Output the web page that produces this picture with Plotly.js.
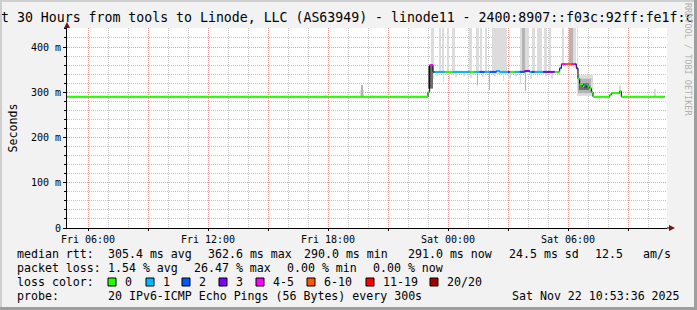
<!DOCTYPE html>
<html><head><meta charset="utf-8">
<script src="https://cdn.plot.ly/plotly-3.0.1.min.js"></script>
<style>
html,body{margin:0;padding:0;background:#f2f2f2;}
#wrap{position:relative;width:697px;height:310px;overflow:hidden;}
#chart{position:absolute;left:0;top:0;width:697px;height:310px;}
.b{position:absolute;pointer-events:none;}
</style></head><body>
<div id="wrap"><div id="chart"></div>
<div class="b" style="left:0;top:0;width:697px;height:2px;background:#cfcfcf"></div>
<div class="b" style="left:0;top:0;width:2px;height:310px;background:#cfcfcf"></div>
<div class="b" style="right:0;top:0;width:3px;height:310px;background:#9e9e9e"></div>
<div class="b" style="left:0;bottom:0;width:697px;height:3px;background:#9e9e9e"></div>
</div>
<script>
// ---- data ----
const medTime = ['2025-11-21 04:57','2025-11-21 23:00','2025-11-21 23:05','2025-11-21 23:15','2025-11-21 23:20','2025-11-21 23:50','2025-11-22 00:15','2025-11-22 01:05','2025-11-22 01:20','2025-11-22 01:35','2025-11-22 01:50','2025-11-22 02:05','2025-11-22 02:25','2025-11-22 02:35','2025-11-22 03:00','2025-11-22 03:05','2025-11-22 03:20','2025-11-22 03:35','2025-11-22 03:50','2025-11-22 04:05','2025-11-22 04:10','2025-11-22 04:20','2025-11-22 04:45','2025-11-22 05:20','2025-11-22 05:35','2025-11-22 05:40','2025-11-22 05:55','2025-11-22 06:10','2025-11-22 06:20','2025-11-22 06:25','2025-11-22 06:30','2025-11-22 06:35','2025-11-22 06:45','2025-11-22 06:50','2025-11-22 06:55','2025-11-22 07:00','2025-11-22 07:05','2025-11-22 07:10','2025-11-22 07:15','2025-11-22 08:05','2025-11-22 08:10','2025-11-22 08:35','2025-11-22 08:40','2025-11-22 10:50'];
const medRtt = [290,300,360,345,345,345,345,345,345,345,345,345,347,345,345,345,345,345,347,345,345,345,345,345,353,362,362,362,362,353,330,318,313,311,316,313,309,300,290,294,298,302,290,290];
const medLoss = [0,0,4,2,1,0,1,0,1,2,1,2,1,1,3,0,1,2,3,1,2,1,3,0,2,4,5,4,3,3,0,0,0,2,1,0,0,0,0,0,0,0,0,0];

const smokeFrom = ['2025-11-21 23:09','2025-11-21 23:33','2025-11-21 23:42','2025-11-21 23:57','2025-11-22 00:12','2025-11-22 01:03','2025-11-22 01:24','2025-11-22 01:36','2025-11-22 01:51','2025-11-22 02:12','2025-11-22 03:36','2025-11-22 03:42','2025-11-22 03:51','2025-11-22 04:12','2025-11-22 04:27','2025-11-22 04:48','2025-11-22 05:03','2025-11-22 05:42','2025-11-22 06:03','2025-11-22 06:15','2025-11-22 06:27',
 '2025-11-21 23:24','2025-11-21 23:45','2025-11-22 00:03','2025-11-22 00:21','2025-11-22 00:45','2025-11-22 01:06','2025-11-22 01:27','2025-11-22 01:42','2025-11-22 02:03','2025-11-22 02:18','2025-11-22 02:45','2025-11-22 03:00','2025-11-22 03:21','2025-11-22 03:36','2025-11-22 03:51','2025-11-22 04:06','2025-11-22 04:27','2025-11-22 04:51','2025-11-22 05:09',
 '2025-11-21 23:00','2025-11-22 06:27','2025-11-22 06:30','2025-11-22 06:33',
 '2025-11-21 19:36','2025-11-21 19:39','2025-11-21 20:12','2025-11-21 17:51','2025-11-22 08:33','2025-11-22 10:18'];
const smokeTo = ['2025-11-21 23:18','2025-11-21 23:39','2025-11-21 23:48','2025-11-22 00:03','2025-11-22 00:21','2025-11-22 01:12','2025-11-22 01:33','2025-11-22 01:42','2025-11-22 01:57','2025-11-22 02:57','2025-11-22 03:42','2025-11-22 03:51','2025-11-22 04:03','2025-11-22 04:21','2025-11-22 04:42','2025-11-22 04:57','2025-11-22 05:09','2025-11-22 05:48','2025-11-22 06:15','2025-11-22 06:24','2025-11-22 06:30',
 '2025-11-21 23:30','2025-11-21 23:48','2025-11-22 00:06','2025-11-22 00:27','2025-11-22 00:51','2025-11-22 01:12','2025-11-22 01:30','2025-11-22 01:48','2025-11-22 02:06','2025-11-22 02:24','2025-11-22 02:48','2025-11-22 03:09','2025-11-22 03:27','2025-11-22 03:39','2025-11-22 03:54','2025-11-22 04:12','2025-11-22 04:30','2025-11-22 04:57','2025-11-22 05:15',
 '2025-11-21 23:15','2025-11-22 07:15','2025-11-22 07:09','2025-11-22 07:03',
 '2025-11-21 19:48','2025-11-21 19:45','2025-11-21 20:15','2025-11-21 17:54','2025-11-22 08:39','2025-11-22 10:24'];
const smokeLo = [330,343,343,343,343,343,343,343,343,340,343,343,343,343,343,343,343,360,360,355,330,
 335,322,326,333,335,332,315,333,305,335,325,330,335,318,302,330,333,335,330,
 308,292,298,305,
 290,290,290,290,298,290];
const smokeHi = [500,500,500,500,500,500,500,500,500,500,500,500,500,500,500,500,500,500,500,500,500,
 346,346,346,346,346,346,346,346,346,346,346,346,346,346,346,346,346,346,346,
 358,338,330,320,
 305,316,294,295,315,307];
const smokeTone = [0,0,0,0,0,0,0,0,0,0,0,1,0,0,0,0,0,0,1,0,0,
 0,0,0,0,0,0,1,0,1,0,0,0,0,0,1,0,0,0,0,
 2,0,1,2,
 0,1,0,0,0,0];

const lossColors = ['#26ff00','#00b8ff','#0059ff','#7e00ff','#ff00fe','#ff5500','#ff0000','#a10000'];
const lossLabels = ['0','1','2','3','4-5','6-10','11-19','20/20'];
const smokeShades = ['#dcdcdc','#b4b4b4','#6e6e6e'];

const xTickVals = ['2025-11-21 06:00','2025-11-21 09:00','2025-11-21 12:00','2025-11-21 15:00','2025-11-21 18:00','2025-11-21 21:00','2025-11-22 00:00','2025-11-22 03:00','2025-11-22 06:00','2025-11-22 09:00'];
const xTickText = ['Fri 06:00','','Fri 12:00','','Fri 18:00','','Sat 00:00','','Sat 06:00',''];
const yTickVals = [0,100,200,300,400];
const yTickText = ['0','100 m','200 m','300 m','400 m'];

const titleText = 't 30 Hours from tools to Linode, LLC (AS63949) - linode11 - 2400:8907::f03c:92ff:fe1f:c';
const rttFields = ['median rtt:','305.4 ms avg','362.6 ms max','290.0 ms min','291.0 ms now','24.5 ms sd','12.5','am/s'];
const lossFields = ['packet loss:','1.54 % avg','26.47 % max','0.00 % min','0.00 % now'];
const probeFields = ['probe:','20 IPv6-ICMP Echo Pings (56 Bytes) every 300s'];
const stampText = 'Sat Nov 22 10:53:36 2025';
const watermark = 'RRDTOOL / TOBI OETIKER';

// ---- build ----
const toMs = s => Date.parse(s.replace(' ','T')+':00Z');
const PX = x => (x-67)/600;
const PY = y => (228-y)/200;
const MONO = 'DejaVu Sans Mono';

const traces = [];
for (let t=0;t<3;t++){
  const xs=[],ys=[],bs=[],ws=[];
  for(let i=0;i<smokeFrom.length;i++){
    if(smokeTone[i]!==t) continue;
    const a=toMs(smokeFrom[i]), b=toMs(smokeTo[i]);
    xs.push((a+b)/2); ws.push(b-a); bs.push(smokeLo[i]); ys.push(smokeHi[i]-smokeLo[i]);
  }
  traces.push({type:'bar',x:xs,y:ys,base:bs,width:ws,marker:{color:smokeShades[t],line:{width:0}},hoverinfo:'skip'});
}
traces.push({type:'scatter',mode:'lines',x:medTime,y:medRtt,line:{color:'#000',width:1,shape:'hv'},hoverinfo:'skip'});
for(let k=0;k<lossColors.length;k++){
  const xs=[],ys=[];
  for(let i=0;i<medTime.length-1;i++){
    if(medLoss[i]!==k) continue;
    xs.push(medTime[i],medTime[i+1],null); ys.push(medRtt[i],medRtt[i],null);
  }
  if(xs.length) traces.push({type:'scatter',mode:'lines',x:xs,y:ys,line:{color:lossColors[k],width:2},hoverinfo:'skip',connectgaps:false});
}

const ann = [];
const txt = (text,x,y,opt={}) => ann.push(Object.assign({text:text,x:PX(x),y:PY(y),xref:'paper',yref:'paper',showarrow:false,xanchor:'left',yanchor:'middle',borderpad:0,font:{family:MONO,size:11.6,color:'#000'}},opt));
txt(titleText,0,18,{font:{family:MONO,size:13.22,color:'#000'}});
txt(watermark,688,59,{xanchor:'center',textangle:90,font:{family:MONO,size:8.5,color:'#b0b0b0'}});
const rttX=[16,107,207,303,407,508,594,642];
rttFields.forEach((f,i)=>txt(f,rttX[i],254));
const lossX=[16,107,193,286,372];
lossFields.forEach((f,i)=>txt(f,lossX[i],268));
txt('loss color:',16,282);
const sqX=[108,146,182,219,256,307,366,430];
const shapes=[];
lossLabels.forEach((l,i)=>{
  txt(l,sqX[i]+16,282);
  shapes.push({type:'rect',xref:'paper',yref:'paper',x0:PX(sqX[i]),x1:PX(sqX[i]+8),y0:PY(286),y1:PY(278),fillcolor:lossColors[i],line:{color:'#000',width:1}});
});
const probeX=[16,107];
probeFields.forEach((f,i)=>txt(f,probeX[i],296));
txt(stampText,681,296,{xanchor:'right'});

const AR='#7a1010';
shapes.push({type:'line',xref:'paper',yref:'paper',x0:1,x1:PX(670),y0:0,y1:0,line:{color:'#000',width:1}});
shapes.push({type:'path',xref:'paper',yref:'paper',path:`M ${PX(669)},${PY(225)} L ${PX(675)},${PY(228)} L ${PX(669)},${PY(231)} Z`,fillcolor:AR,line:{color:AR,width:0}});
shapes.push({type:'path',xref:'paper',yref:'paper',path:`M ${PX(64)},${PY(28)} L ${PX(67)},${PY(22)} L ${PX(70)},${PY(28)} Z`,fillcolor:AR,line:{color:AR,width:0}});

const layout = {
  width:697,height:310,
  margin:{l:67,r:30,t:28,b:82,pad:0},
  paper_bgcolor:'#f2f2f2',plot_bgcolor:'#ffffff',
  showlegend:false,barmode:'overlay',
  font:{family:MONO,size:10,color:'#000'},
  xaxis:{type:'date',range:['2025-11-21 04:57','2025-11-22 10:57'],tickmode:'array',tickvals:xTickVals,ticktext:xTickText,
    showgrid:true,gridcolor:'#f09a9a',griddash:'1px,1px',gridwidth:1,showline:true,linecolor:'#000',linewidth:1,
    ticks:'outside',ticklen:2,tickcolor:'#000',zeroline:false,fixedrange:true,tickfont:{family:MONO,size:10},
    minor:{dtick:3600000,tick0:'2025-11-21 00:00',showgrid:true,gridcolor:'#c4c4c4',griddash:'1px,1px',gridwidth:1,ticks:'',ticklen:0}},
  yaxis:{range:[0,442],tickmode:'array',tickvals:yTickVals,ticktext:yTickText,
    showgrid:true,gridcolor:'#f09a9a',griddash:'1px,1px',gridwidth:1,showline:true,linecolor:'#000',linewidth:1,
    ticks:'outside',ticklen:3,tickcolor:'#000',zeroline:false,fixedrange:true,tickfont:{family:MONO,size:10},
    title:{text:'Seconds',font:{family:MONO,size:11.6},standoff:10},
    minor:{dtick:20,tick0:0,showgrid:true,gridcolor:'#c4c4c4',griddash:'1px,1px',gridwidth:1,ticks:'outside',ticklen:2,tickcolor:'#000'}},
  annotations:ann,shapes:shapes
};
Plotly.newPlot('chart',traces,layout,{staticPlot:true,displayModeBar:false});
</script></body></html>
